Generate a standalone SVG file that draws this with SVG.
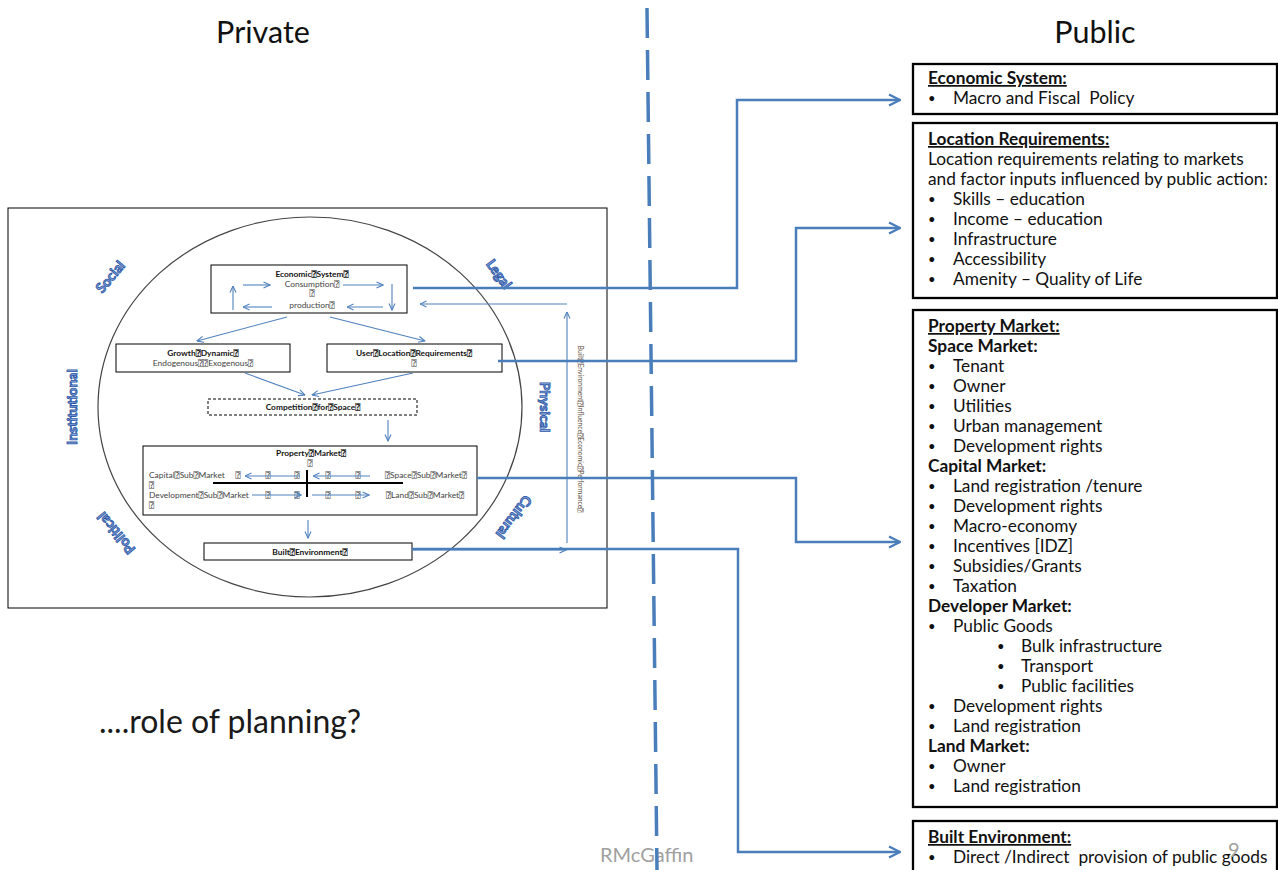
<svg xmlns="http://www.w3.org/2000/svg" width="1278" height="870" viewBox="0 0 1278 870">
  <style>
    text { font-family: Lato, "Open Sans", "DejaVu Sans", "DejaVu Sans Mono", sans-serif; }
    .title { font-size: 30.5px; fill: #111; }
    .pub { font-size: 17.3px; fill: #111; }
    .pubh { font-size: 17.3px; font-weight: bold; fill: #111; }
    .bul { font-size: 13px; fill: #111; }
    .u { text-decoration: underline; }
    .box { fill: #fff; stroke: #000; stroke-width: 1; }
    .dash { fill: #fff; stroke: #000; stroke-width: 1; stroke-dasharray: 3 2; }
    .pbox { fill: #fff; stroke: #000; stroke-width: 2.3; }
    .conn { fill: none; stroke: #4a7ebb; stroke-width: 2.5; }
    .thin { fill: none; stroke: #4f81bd; stroke-width: 1.1; }
    .sb { font-size: 8.4px; font-weight: bold; fill: #111; }
    .s { font-size: 8.4px; fill: #444; }
    .ring { font-size: 14px; font-weight: bold; fill: #8aa8dc; stroke: #2f5aa8; stroke-width: 0.9; }
    .gray { font-size: 20px; fill: #a0a0a0; }
  </style>
  <defs>
    <marker id="big" viewBox="0 0 14 14" refX="13" refY="7" markerWidth="14" markerHeight="14" markerUnits="userSpaceOnUse" orient="auto">
      <path d="M2,1.5 L13,7 L2,12.5" fill="none" stroke="#4a7ebb" stroke-width="2.3"/>
    </marker>
    <marker id="sm" viewBox="0 0 8 8" refX="7.5" refY="4" markerWidth="8" markerHeight="8" markerUnits="userSpaceOnUse" orient="auto">
      <path d="M1,1 L7.5,4 L1,7" fill="none" stroke="#4f81bd" stroke-width="1.1"/>
    </marker>
  </defs>

  <rect width="1278" height="870" fill="#fff"/>

  <!-- headings -->
  <text class="title" x="263" y="43" text-anchor="middle">Private</text>
  <text class="title" x="1095" y="43" text-anchor="middle">Public</text>

  <!-- private side: the economic model inside its frame -->
  <g id="model-frame">
    <rect x="8" y="208" width="599" height="400" fill="#fff" stroke="#000" stroke-width="1"/>
    <ellipse cx="310" cy="407" rx="212" ry="190" fill="none" stroke="#444" stroke-width="1.2"/>
  </g>

  <g id="ring-labels">
    <text class="ring" transform="translate(114,280) rotate(-50)" text-anchor="middle">Social</text>
    <text class="ring" transform="translate(495,277) rotate(54)" text-anchor="middle">Legal</text>
    <text class="ring" transform="translate(540,407) rotate(90)" text-anchor="middle">Physical</text>
    <text class="ring" transform="translate(510,514) rotate(127)" text-anchor="middle">Cultural</text>
    <text class="ring" transform="translate(120,530) rotate(230)" text-anchor="middle">Political</text>
    <text class="ring" transform="translate(77,407) rotate(-90)" text-anchor="middle">Institutional</text>
  </g>

  <g id="economic-system">
    <rect class="box" x="211" y="265" width="196" height="48"/>
    <text class="sb" x="312" y="277" text-anchor="middle">Economic⍰System⍰</text>
    <text class="s" x="312" y="287" text-anchor="middle">Consumption⍰</text>
    <text class="s" x="312" y="296" text-anchor="middle">⍰</text>
    <text class="s" x="312" y="308" text-anchor="middle">production⍰</text>
    <path class="thin" d="M233,310 V286" marker-end="url(#sm)"/>
    <path class="thin" d="M243,285 H270" marker-end="url(#sm)"/>
    <path class="thin" d="M343,285 H383" marker-end="url(#sm)"/>
    <path class="thin" d="M392,284 V310" marker-end="url(#sm)"/>
    <path class="thin" d="M383,307 H347" marker-end="url(#sm)"/>
    <path class="thin" d="M272,307 H243" marker-end="url(#sm)"/>
  </g>

  <g id="growth-dynamic">
    <rect class="box" x="116" y="344" width="174" height="28"/>
    <text class="sb" x="203" y="356" text-anchor="middle">Growth⍰Dynamic⍰</text>
    <text class="s" x="203" y="366" text-anchor="middle">Endogenous⍰⍰Exogenous⍰</text>
  </g>

  <g id="user-location">
    <rect class="box" x="327" y="344" width="175" height="28"/>
    <text class="sb" x="414" y="356" text-anchor="middle">User⍰Location⍰Requirements⍰</text>
    <text class="s" x="414" y="366" text-anchor="middle">⍰</text>
  </g>

  <g id="competition">
    <rect class="dash" x="208" y="399" width="209" height="16"/>
    <text class="sb" x="313" y="410" text-anchor="middle">Competition⍰for⍰Space⍰</text>
  </g>

  <g id="property-market">
    <rect class="box" x="143" y="446" width="334" height="69"/>
    <text class="sb" x="311" y="456" text-anchor="middle">Property⍰Market⍰</text>
    <text class="s" x="310" y="466" text-anchor="middle">⍰</text>
    <text class="s" x="149" y="478">Capital⍰Sub⍰Market</text>
    <text class="s" x="149" y="488">⍰</text>
    <text class="s" x="149" y="498">Development⍰Sub⍰Market</text>
    <text class="s" x="149" y="508">⍰</text>
    <text class="s" x="385" y="478">⍰Space⍰Sub⍰Market⍰</text>
    <text class="s" x="386" y="498">⍰Land⍰Sub⍰Market⍰</text>
    <g class="s" text-anchor="middle">
      <text x="238" y="478">⍰</text>
      <text x="268" y="478">⍰</text>
      <text x="297" y="478">⍰</text>
      <text x="328" y="478">⍰</text>
      <text x="358" y="478">⍰</text>
      <text x="268" y="498">⍰</text>
      <text x="297" y="498">⍰</text>
      <text x="328" y="498">⍰</text>
      <text x="358" y="498">⍰</text>
    </g>
    <path class="thin" d="M300,476 H245" marker-end="url(#sm)"/>
    <path class="thin" d="M370,476 H313" marker-end="url(#sm)"/>
    <path class="thin" d="M252,495 H301" marker-end="url(#sm)"/>
    <path class="thin" d="M312,495 H369" marker-end="url(#sm)"/>
    <path d="M213,483 H403 M307,470 V497" stroke="#000" stroke-width="2" fill="none"/>
  </g>

  <g id="built-environment">
    <rect class="box" x="204" y="543" width="208" height="17"/>
    <text class="sb" x="310" y="555" text-anchor="middle">Built⍰Environment⍰</text>
  </g>

  <!-- flows inside the model -->
  <g id="model-flows">
    <path class="thin" d="M287,317 L197,341" marker-end="url(#sm)"/>
    <path class="thin" d="M330,317 L425,341" marker-end="url(#sm)"/>
    <path class="thin" d="M245,373 L305,395" marker-end="url(#sm)"/>
    <path class="thin" d="M413,373 L312,395" marker-end="url(#sm)"/>
    <path class="thin" d="M388,420 V441" marker-end="url(#sm)"/>
    <path class="thin" d="M308,520 V538" marker-end="url(#sm)"/>
    <path class="thin" d="M412,550 H566" marker-end="url(#sm)"/>
    <path class="thin" d="M567,543 V312" marker-end="url(#sm)"/>
    <path class="thin" d="M567,304 H420" marker-end="url(#sm)"/>
    <text class="s" style="font-size:6.8px; fill:#5a4a3a" transform="translate(578,429) rotate(90)" text-anchor="middle">Built⍰Environment⍰Influence⍰Economic⍰Performance⍰</text>
  </g>

  <text x="99" y="733" style="font-size:32px; fill:#1a1a1a">....role of planning?</text>

  <!-- public side -->
  <g id="pub-economic">
    <rect class="pbox" x="913" y="64" width="364" height="50"/>
    <text class="pubh u" x="928" y="84">Economic System:</text>
    <text class="bul" x="928" y="103">•</text>
    <text class="pub" x="953" y="104" xml:space="preserve">Macro and Fiscal  Policy</text>
  </g>

  <g id="pub-location">
    <rect class="pbox" x="913" y="123" width="364" height="175"/>
    <text class="pubh u" x="928" y="145">Location Requirements:</text>
    <text class="pub" x="928" y="165">Location requirements relating to markets</text>
    <text class="pub" x="928" y="185">and factor inputs influenced by public action:</text>
    <g class="bul">
      <text x="928" y="204">•</text>
      <text x="928" y="224">•</text>
      <text x="928" y="244">•</text>
      <text x="928" y="264">•</text>
      <text x="928" y="284">•</text>
    </g>
    <g class="pub">
      <text x="953" y="205">Skills – education</text>
      <text x="953" y="225">Income – education</text>
      <text x="953" y="245">Infrastructure</text>
      <text x="953" y="265">Accessibility</text>
      <text x="953" y="285">Amenity – Quality of Life</text>
    </g>
  </g>

  <g id="pub-property">
    <rect class="pbox" x="913" y="310" width="364" height="497"/>
    <text class="pubh u" x="928" y="332">Property Market:</text>
    <text class="pubh" x="928" y="352">Space Market:</text>
    <text class="pubh" x="928" y="472">Capital Market:</text>
    <text class="pubh" x="928" y="612">Developer Market:</text>
    <text class="pubh" x="928" y="752">Land Market:</text>
    <g class="bul">
      <text x="928" y="371">•</text>
      <text x="928" y="391">•</text>
      <text x="928" y="411">•</text>
      <text x="928" y="431">•</text>
      <text x="928" y="451">•</text>
      <text x="928" y="491">•</text>
      <text x="928" y="511">•</text>
      <text x="928" y="531">•</text>
      <text x="928" y="551">•</text>
      <text x="928" y="571">•</text>
      <text x="928" y="591">•</text>
      <text x="928" y="631">•</text>
      <text x="997" y="651">•</text>
      <text x="997" y="671">•</text>
      <text x="997" y="691">•</text>
      <text x="928" y="711">•</text>
      <text x="928" y="731">•</text>
      <text x="928" y="771">•</text>
      <text x="928" y="791">•</text>
    </g>
    <g class="pub">
      <text x="953" y="372">Tenant</text>
      <text x="953" y="392">Owner</text>
      <text x="953" y="412">Utilities</text>
      <text x="953" y="432">Urban management</text>
      <text x="953" y="452">Development rights</text>
      <text x="953" y="492">Land registration /tenure</text>
      <text x="953" y="512">Development rights</text>
      <text x="953" y="532">Macro-economy</text>
      <text x="953" y="552">Incentives [IDZ]</text>
      <text x="953" y="572">Subsidies/Grants</text>
      <text x="953" y="592">Taxation</text>
      <text x="953" y="632">Public Goods</text>
      <text x="1021" y="652">Bulk infrastructure</text>
      <text x="1021" y="672">Transport</text>
      <text x="1021" y="692">Public facilities</text>
      <text x="953" y="712">Development rights</text>
      <text x="953" y="732">Land registration</text>
      <text x="953" y="772">Owner</text>
      <text x="953" y="792">Land registration</text>
    </g>
  </g>

  <g id="pub-built">
    <rect class="pbox" x="913" y="821" width="364" height="60"/>
    <text class="pubh u" x="928" y="843">Built Environment:</text>
    <text class="bul" x="928" y="862">•</text>
    <text class="pub" x="953" y="863" xml:space="preserve">Direct /Indirect  provision of public goods</text>
  </g>

  <!-- footer marks -->
  <text class="gray" x="600" y="862">RMcGaffin</text>
  <text class="gray" x="1228" y="857">9</text>

  <!-- private / public divide -->
  <line x1="647" y1="8" x2="657" y2="870" stroke="#4a7ebb" stroke-width="3.5" stroke-dasharray="30 12"/>

  <!-- links from the model to public action -->
  <g id="connectors">
    <path class="conn" d="M413,288 H737 V100 H900" marker-end="url(#big)"/>
    <path class="conn" d="M498,361 H796 V228 H900" marker-end="url(#big)"/>
    <path class="conn" d="M477,478 H796 V542 H900" marker-end="url(#big)"/>
    <path class="conn" d="M412,549 H738 V852 H900" marker-end="url(#big)"/>
  </g>
</svg>
